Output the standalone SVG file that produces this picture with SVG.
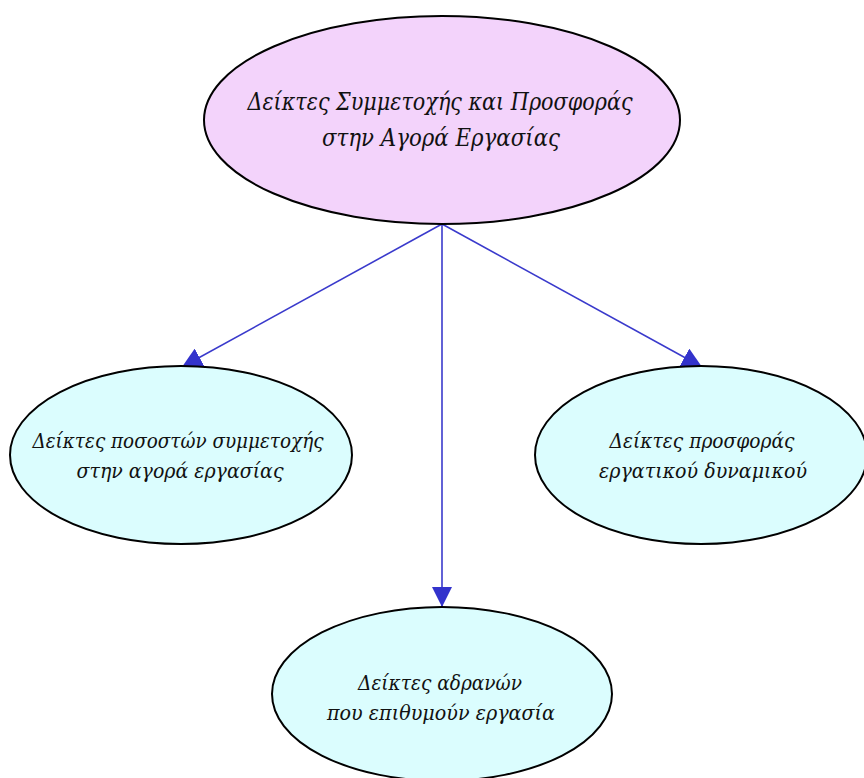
<svg xmlns="http://www.w3.org/2000/svg" width="864" height="778" viewBox="0 0 864 778">
<defs>
<style>
.n{stroke:#000;stroke-width:2}
.top{fill:#f3d3fb}
.sub{fill:#dbfdfe}
.t{font-family:"DejaVu Serif","Liberation Serif",serif;font-style:italic;fill:#111;text-anchor:middle}
.e{stroke:#3a3acc;stroke-width:1.6;fill:none}
</style>
<marker id="ah" viewBox="0 0 20 20" refX="20" refY="10" markerWidth="20" markerHeight="20" markerUnits="userSpaceOnUse" orient="auto">
<path d="M0,0 L20,10 L0,20 z" fill="#3333cc"/>
</marker>
</defs>
<rect width="864" height="778" fill="#fff"/>
<g id="edges">
<line class="e" x1="442" y1="224" x2="182" y2="367" marker-end="url(#ah)"/>
<line class="e" x1="442" y1="224" x2="702" y2="367" marker-end="url(#ah)"/>
<line class="e" x1="442" y1="224" x2="442" y2="607" marker-end="url(#ah)"/>
</g>
<g id="root">
<ellipse class="n top" cx="442" cy="120" rx="238" ry="104"/>
<text class="t" x="440" y="110" font-size="25" textLength="385" lengthAdjust="spacingAndGlyphs">Δείκτες Συμμετοχής και Προσφοράς</text>
<text class="t" x="441" y="146" font-size="25" textLength="238" lengthAdjust="spacingAndGlyphs">στην Αγορά Εργασίας</text>
</g>
<g id="left">
<ellipse class="n sub" cx="181" cy="455" rx="171" ry="89"/>
<text class="t" x="178" y="448" font-size="21" textLength="291" lengthAdjust="spacingAndGlyphs">Δείκτες ποσοστών συμμετοχής</text>
<text class="t" x="180" y="478" font-size="21" textLength="207" lengthAdjust="spacingAndGlyphs">στην αγορά εργασίας</text>
</g>
<g id="right">
<ellipse class="n sub" cx="701" cy="455" rx="166" ry="89"/>
<text class="t" x="702" y="448" font-size="21" textLength="185" lengthAdjust="spacingAndGlyphs">Δείκτες προσφοράς</text>
<text class="t" x="703" y="478" font-size="21" textLength="208" lengthAdjust="spacingAndGlyphs">εργατικού δυναμικού</text>
</g>
<g id="bottom">
<ellipse class="n sub" cx="442" cy="694" rx="170" ry="87"/>
<text class="t" x="440" y="690" font-size="21" textLength="164" lengthAdjust="spacingAndGlyphs">Δείκτες αδρανών</text>
<text class="t" x="441" y="720" font-size="21" textLength="228" lengthAdjust="spacingAndGlyphs">που επιθυμούν εργασία</text>
</g>
</svg>
